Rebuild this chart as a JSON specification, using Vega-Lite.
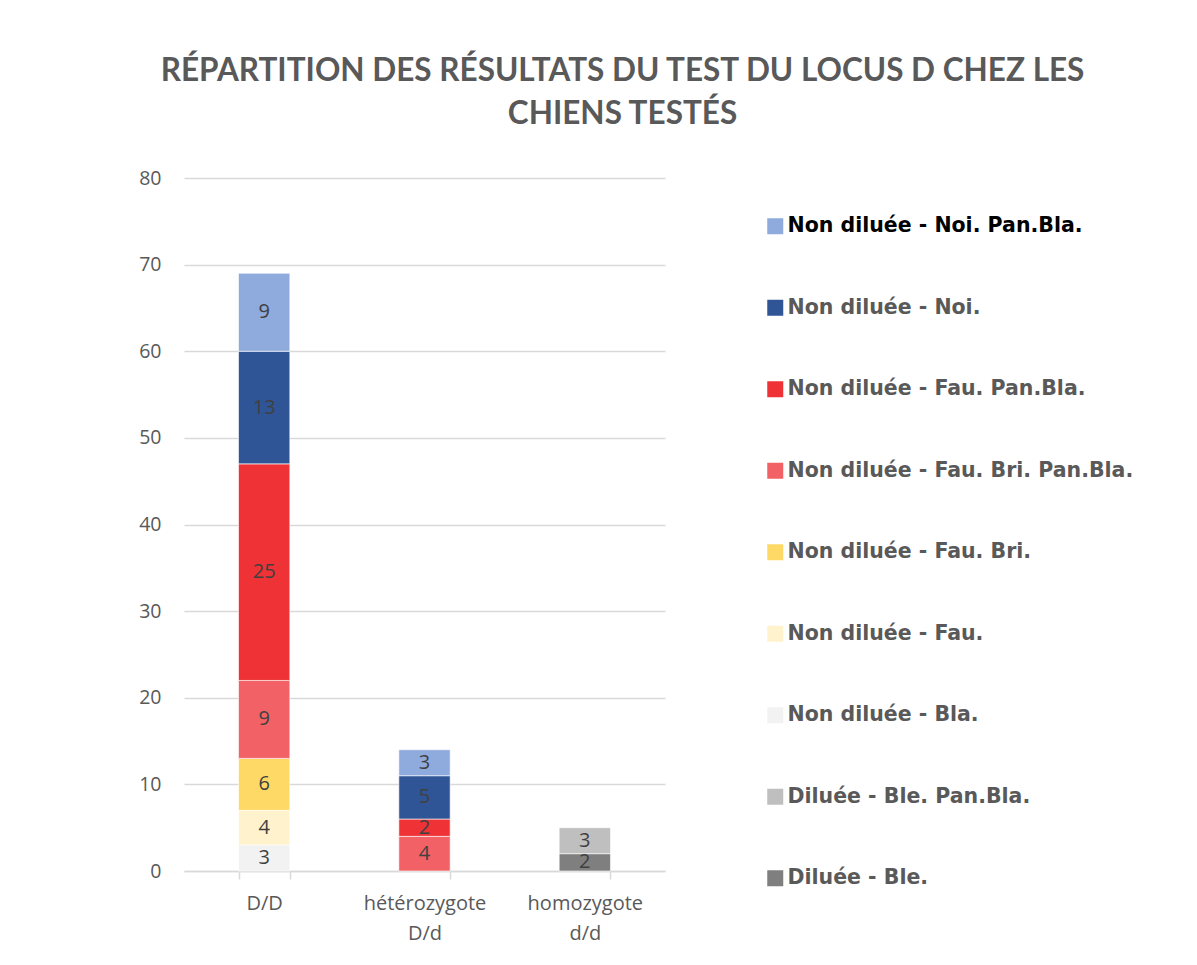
{
  "$schema": "https://vega.github.io/schema/vega-lite/v6.json",
  "autosize": "none",
  "width": 481,
  "height": 693,
  "padding": {"left": 184, "top": 178, "right": 532, "bottom": 94},
  "background": "white",
  "title": {
    "text": ["RÉPARTITION DES RÉSULTATS DU TEST DU LOCUS D CHEZ LES", "CHIENS TESTÉS"],
    "font": "Lato",
    "fontSize": 31.5,
    "fontWeight": "bold",
    "color": "#595959",
    "lineHeight": 43,
    "anchor": "middle",
    "frame": "group",
    "dx": 198,
    "offset": 38
  },
  "config": {
    "view": {"stroke": null},
    "font": "Open Sans"
  },
  "data": {
    "values": [
      {"cat": "D/D", "serie": "Non diluée - Bla.", "ord": 3, "n": 3},
      {"cat": "D/D", "serie": "Non diluée - Fau.", "ord": 4, "n": 4},
      {"cat": "D/D", "serie": "Non diluée - Fau. Bri.", "ord": 5, "n": 6},
      {"cat": "D/D", "serie": "Non diluée - Fau. Bri. Pan.Bla.", "ord": 6, "n": 9},
      {"cat": "D/D", "serie": "Non diluée - Fau. Pan.Bla.", "ord": 7, "n": 25},
      {"cat": "D/D", "serie": "Non diluée - Noi.", "ord": 8, "n": 13},
      {"cat": "D/D", "serie": "Non diluée - Noi. Pan.Bla.", "ord": 9, "n": 9},
      {"cat": "hétérozygote D/d", "serie": "Non diluée - Fau. Bri. Pan.Bla.", "ord": 6, "n": 4},
      {"cat": "hétérozygote D/d", "serie": "Non diluée - Fau. Pan.Bla.", "ord": 7, "n": 2},
      {"cat": "hétérozygote D/d", "serie": "Non diluée - Noi.", "ord": 8, "n": 5},
      {"cat": "hétérozygote D/d", "serie": "Non diluée - Noi. Pan.Bla.", "ord": 9, "n": 3},
      {"cat": "homozygote d/d", "serie": "Diluée - Ble.", "ord": 1, "n": 2},
      {"cat": "homozygote d/d", "serie": "Diluée - Ble. Pan.Bla.", "ord": 2, "n": 3}
    ]
  },
  "encoding": {
    "x": {
      "field": "cat",
      "type": "nominal",
      "sort": ["D/D", "hétérozygote D/d", "homozygote d/d"],
      "scale": {"paddingInner": 0.68, "paddingOuter": 0.34},
      "axis": {
        "title": null,
        "labelAngle": 0,
        "labelExpr": "split(datum.label, ' ')",
        "labelFont": "Open Sans",
        "labelFontSize": 20,
        "labelColor": "#595959",
        "labelPadding": 14,
        "labelLineHeight": 30,
        "domainColor": "#D9D9D9",
        "domainWidth": 1.5,
        "tickColor": "#D9D9D9",
        "tickWidth": 1.5,
        "tickSize": 8,
        "tickBand": "extent",
        "grid": false
      }
    },
    "y": {
      "field": "n",
      "type": "quantitative",
      "stack": "zero",
      "scale": {"domain": [0, 80], "nice": false},
      "axis": {
        "title": null,
        "values": [0, 10, 20, 30, 40, 50, 60, 70, 80],
        "labelFont": "Open Sans",
        "labelFontSize": 19.5,
        "labelColor": "#595959",
        "labelPadding": 23,
        "domain": false,
        "ticks": false,
        "grid": true,
        "gridColor": "#D9D9D9",
        "gridWidth": 1.3
      }
    },
    "order": {"field": "ord", "type": "quantitative"}
  },
  "layer": [
    {
      "mark": {"type": "bar", "stroke": "white", "strokeWidth": 0.6},
      "encoding": {
        "color": {
          "field": "serie",
          "type": "nominal",
          "scale": {
            "domain": [
              "Non diluée - Noi. Pan.Bla.",
              "Non diluée - Noi.",
              "Non diluée - Fau. Pan.Bla.",
              "Non diluée - Fau. Bri. Pan.Bla.",
              "Non diluée - Fau. Bri.",
              "Non diluée - Fau.",
              "Non diluée - Bla.",
              "Diluée - Ble. Pan.Bla.",
              "Diluée - Ble."
            ],
            "range": ["#8FAADC", "#2F5597", "#EE3236", "#F26165", "#FFD966", "#FFF2CC", "#F2F2F2", "#BFBFBF", "#7F7F7F"]
          },
          "legend": {
            "title": null,
            "orient": "none",
            "legendX": 581,
            "legendY": 38,
            "symbolType": "square",
            "symbolSize": 256,
            "symbolStrokeWidth": 0,
            "labelFont": "DejaVu Sans",
            "labelFontSize": 20.5,
            "labelFontWeight": "bold",
            "labelColor": {"expr": "datum.index === 0 ? '#000000' : '#595959'"},
            "labelOffset": 2,
            "labelLimit": 500,
            "rowPadding": 60.5
          }
        }
      }
    },
    {
      "mark": {"type": "text", "font": "Open Sans", "fontSize": 20, "color": "#404040", "baseline": "middle"},
      "encoding": {
        "y": {"field": "n", "type": "quantitative", "stack": "zero", "bandPosition": 0.5},
        "text": {"field": "n", "type": "quantitative"}
      }
    }
  ]
}
